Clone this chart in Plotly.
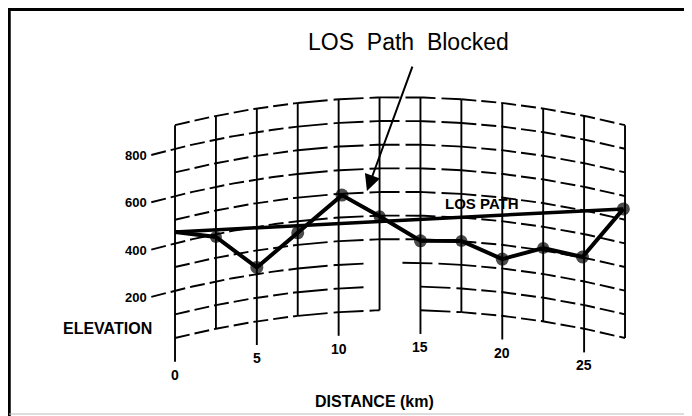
import numpy as np
import plotly.graph_objects as go

# ---------------- data ----------------
distance_km = [0, 2.5, 5, 7.5, 10.2, 12.5, 15, 17.5, 20, 22.5, 24.9, 27.4]
elevation_m = [448, 388, 228, 351, 494, 398, 294, 301, 240, 310, 302, 544]
marker_size = [0, 12, 13, 13, 13, 12, 13, 12, 13, 12, 13, 13]

grid_distance_km = [0, 2.5, 5, 7.5, 10, 12.5, 15, 17.5, 20, 22.5, 25, 27.5]
grid_elevation_m = [0, 100, 200, 300, 400, 500, 600, 700, 800, 900]
x_tick_labels = [0, 5, 10, 15, 20, 25]
y_tick_labels = [200, 400, 600, 800]

# curved-earth drawing parameters (exaggerated bulge at mid path)
PATH_KM = 27.5
BULGE_M = 118.0


def bulge(d):
    d = np.asarray(d, dtype=float)
    t = d / PATH_KM
    return 4 * BULGE_M * t * (1 - t)


# gaps in the lower grid curves (as in the original drawing)
curve_gaps = {0: [(12.5, 15.0)], 100: [(11.8, 15.0)], 200: [(11.8, 13.9)]}
# the flat middle part of the curves is drawn with longer dashes
MID_START, MID_END = 7.5, 17.5

FONT = "Liberation Sans, Arial, Helvetica, sans-serif"
BLACK = "#000000"

# page has an 8px body margin: figure fills the visible 684x408 area
W, H, OFF = 684, 408, 8


def px(xp):
    return (xp - OFF) / W


def py(yp):
    return 1 - (yp - OFF) / H


fig = go.Figure()


def add_curve(e, a, b):
    # split into outer (short dash) and middle (long dash) parts
    cuts = sorted(set([a, b] + [c for c in (MID_START, MID_END) if a < c < b]))
    for s0, s1 in zip(cuts[:-1], cuts[1:]):
        mid = MID_START <= 0.5 * (s0 + s1) <= MID_END
        d = np.linspace(s0, s1, 40)
        fig.add_trace(go.Scatter(
            x=d, y=e + bulge(d), mode="lines",
            line=dict(color=BLACK, width=1.9,
                      dash="30px,6px" if mid else "15px,5px"),
            hoverinfo="skip"))


# ---- curved elevation grid (dashed) ----
for e in grid_elevation_m:
    start = -1.45 if e in y_tick_labels else 0.0
    cur = start
    for g0, g1 in curve_gaps.get(e, []):
        add_curve(e, cur, g0)
        cur = g1
    add_curve(e, cur, grid_distance_km[-1])

# ---- vertical distance lines ----
for g in grid_distance_km:
    low = -100 if g in x_tick_labels else 0
    fig.add_trace(go.Scatter(
        x=[g, g], y=[low + float(bulge(g)), grid_elevation_m[-1] + float(bulge(g))],
        mode="lines", line=dict(color=BLACK, width=1.9), hoverinfo="skip"))

# ---- LOS path (straight line between end points) ----
terrain_y = np.array(elevation_m) + bulge(distance_km)
fig.add_trace(go.Scatter(
    x=[distance_km[0], distance_km[-1]], y=[terrain_y[0], terrain_y[-1]],
    mode="lines", line=dict(color=BLACK, width=3.5), hoverinfo="skip"))

# ---- terrain profile ----
fig.add_trace(go.Scatter(
    x=distance_km, y=terrain_y, mode="lines+markers",
    line=dict(color=BLACK, width=4),
    marker=dict(color=BLACK, size=marker_size, line=dict(width=0)),
    hoverinfo="skip"))

annotations = []
for v in x_tick_labels:
    annotations.append(dict(
        x=v, y=-100 + float(bulge(v)) - 55, xref="x", yref="y", text="<b>%d</b>" % v,
        showarrow=False, font=dict(family=FONT, size=14, color=BLACK),
        xanchor="center", yanchor="middle"))
for v in y_tick_labels:
    annotations.append(dict(
        x=-1.6, y=v + float(bulge(-1.6)), xref="x", yref="y",
        text="<b>%d</b>" % v, showarrow=False,
        font=dict(family=FONT, size=13, color=BLACK),
        xanchor="right", yanchor="middle"))
annotations.append(dict(
    x=-1.3, y=42, xref="x", yref="y", text="<b>ELEVATION</b>", showarrow=False,
    font=dict(family=FONT, size=16, color=BLACK), xanchor="right", yanchor="middle"))
annotations.append(dict(
    x=12.2, y=-270, xref="x", yref="y", text="<b>DISTANCE (km)</b>", showarrow=False,
    font=dict(family=FONT, size=16, color=BLACK), xanchor="center", yanchor="middle"))
annotations.append(dict(
    x=18.76, y=567, xref="x", yref="y", text="<b>LOS PATH</b>", showarrow=False,
    font=dict(family=FONT, size=15, color=BLACK), xanchor="center", yanchor="middle"))
annotations.append(dict(
    x=14.24, y=1252, xref="x", yref="y", text="LOS  Path  Blocked", showarrow=False,
    font=dict(family=FONT, size=23, color=BLACK), xanchor="center", yanchor="middle"))
annotations.append(dict(
    x=11.73, y=622, xref="x", yref="y", ax=14.54, ay=1154, axref="x", ayref="y",
    text="", showarrow=True, arrowhead=2, arrowsize=1.6, arrowwidth=2,
    arrowcolor=BLACK))

# frame
shapes = [
    dict(type="line", xref="paper", yref="paper", x0=px(9), x1=px(9),
         y0=py(9), y1=py(416), line=dict(color=BLACK, width=3.5)),
    dict(type="line", xref="paper", yref="paper", x0=px(7.5), x1=px(690),
         y0=py(9.5), y1=py(9.5), line=dict(color=BLACK, width=3)),
    dict(type="line", xref="paper", yref="paper", x0=px(689.5), x1=px(689.5),
         y0=py(9), y1=py(414), line=dict(color=BLACK, width=1.5)),
    dict(type="line", xref="paper", yref="paper", x0=px(9), x1=px(690),
         y0=py(414), y1=py(414), line=dict(color="#bbbbbb", width=1)),
]

fig.update_layout(
    width=W, height=H,
    margin=dict(l=0, r=0, t=0, b=0),
    paper_bgcolor="white", plot_bgcolor="white",
    showlegend=False,
    xaxis=dict(range=[-10.206, 31.594], visible=False, fixedrange=True),
    yaxis=dict(range=[-329.9, 1395.3], visible=False, fixedrange=True),
    annotations=annotations,
    shapes=shapes,
)

fig.write_html("out.html")
